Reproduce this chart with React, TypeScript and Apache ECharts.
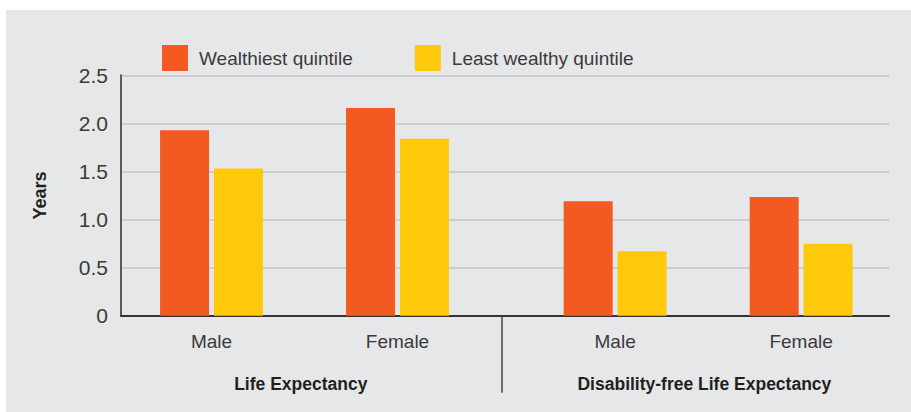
import React, { useEffect, useRef } from "react";
import * as echarts from "echarts";

const categoryLabels = ["Male", "Female", "Male", "Female"];
const categoryPositions = [0, 1, 2.17, 3.17];
const groupLabels = ["Life Expectancy", "Disability-free Life Expectancy"];
const groupPositions = [0.48, 2.65];
const dividerPositions = [1.56];
const seriesNames = ["Wealthiest quintile", "Least wealthy quintile"];
const wealthiest = [1.93, 2.16, 1.19, 1.235];
const leastWealthy = [1.53, 1.84, 0.67, 0.75];
const yMin = 0;
const yMax = 2.5;
const yInterval = 0.5;

const FONT = "'Liberation Sans', Arial, Helvetica, sans-serif";

export default function App() {
  const ref = useRef<HTMLDivElement>(null);

  useEffect(() => {
    document.body.style.margin = "0";
    if (!ref.current) return;
    const chart = echarts.init(ref.current, null, { renderer: "svg" });

    const labelFor = (v: number) => {
      const i = categoryPositions.findIndex((p) => Math.abs(p - v) < 1e-6);
      return i >= 0 ? categoryLabels[i] : "";
    };
    const groupFor = (v: number) => {
      const i = groupPositions.findIndex((p) => Math.abs(p - v) < 1e-6);
      return i >= 0 ? groupLabels[i] : "";
    };

    chart.setOption({
      animation: false,
      backgroundColor: "#ffffff",
      textStyle: { fontFamily: FONT },
      graphic: [
        {
          type: "rect",
          z: -10,
          silent: true,
          shape: { x: 6, y: 10, width: 905, height: 402 },
          style: { fill: "#e6e7e9" },
        },
      ],
      legend: {
        left: 162,
        top: 45,
        padding: 0,
        itemWidth: 26,
        itemHeight: 26,
        itemGap: 62,
        icon: "rect",
        textStyle: {
          fontSize: 19,
          color: "#3a3a3a",
          fontFamily: FONT,
          padding: [0, 0, 0, 6],
        },
        data: seriesNames,
      },
      grid: {
        left: 121,
        right: 22,
        top: 75.3,
        bottom: 96.2,
        containLabel: false,
      },
      xAxis: [
        {
          type: "value",
          min: -0.4866,
          max: 3.6425,
          position: "bottom",
          splitLine: { show: false },
          axisLine: {
            show: true,
            onZero: false,
            lineStyle: { color: "#333333", width: 2 },
          },
          axisTick: {
            show: true,
            customValues: dividerPositions,
            length: 77,
            lineStyle: { color: "#444444", width: 1.5 },
          },
          axisLabel: {
            show: true,
            customValues: categoryPositions,
            formatter: (v: number) => labelFor(v),
            fontSize: 19,
            color: "#3a3a3a",
            fontFamily: FONT,
            margin: 16,
          },
        },
        {
          type: "value",
          min: -0.4866,
          max: 3.6425,
          position: "bottom",
          splitLine: { show: false },
          axisLine: { show: false, onZero: false },
          axisTick: { show: false },
          axisLabel: {
            show: true,
            customValues: groupPositions,
            formatter: (v: number) => groupFor(v),
            fontSize: 17.5,
            fontWeight: "bold",
            color: "#231f20",
            fontFamily: FONT,
            margin: 59,
          },
        },
      ],
      yAxis: {
        type: "value",
        min: yMin,
        max: yMax,
        interval: yInterval,
        name: "Years",
        nameLocation: "middle",
        nameRotate: 90,
        nameGap: 72,
        nameTextStyle: {
          fontSize: 18,
          fontWeight: "bold",
          color: "#231f20",
          fontFamily: FONT,
        },
        axisLine: {
          show: true,
          onZero: false,
          lineStyle: { color: "#5a5a5a", width: 2 },
        },
        axisTick: { show: false },
        splitLine: { show: true, lineStyle: { color: "#c3c4c6", width: 1.6 } },
        axisLabel: {
          fontSize: 21,
          color: "#3a3a3a",
          fontFamily: FONT,
          margin: 13,
          formatter: (v: number) => (v === 0 ? "0" : v.toFixed(1)),
        },
      },
      series: [
        {
          name: seriesNames[0],
          type: "bar",
          xAxisIndex: 0,
          barWidth: 49,
          barGap: "10%",
          itemStyle: { color: "#f35a22" },
          data: categoryPositions.map((p, i) => [p, wealthiest[i]]),
        },
        {
          name: seriesNames[1],
          type: "bar",
          xAxisIndex: 0,
          barWidth: 49,
          barGap: "10%",
          itemStyle: { color: "#ffc90b" },
          data: categoryPositions.map((p, i) => [p, leastWealthy[i]]),
        },
      ],
    });

    return () => chart.dispose();
  }, []);

  return <div ref={ref} style={{ width: 911, height: 412 }} />;
}
